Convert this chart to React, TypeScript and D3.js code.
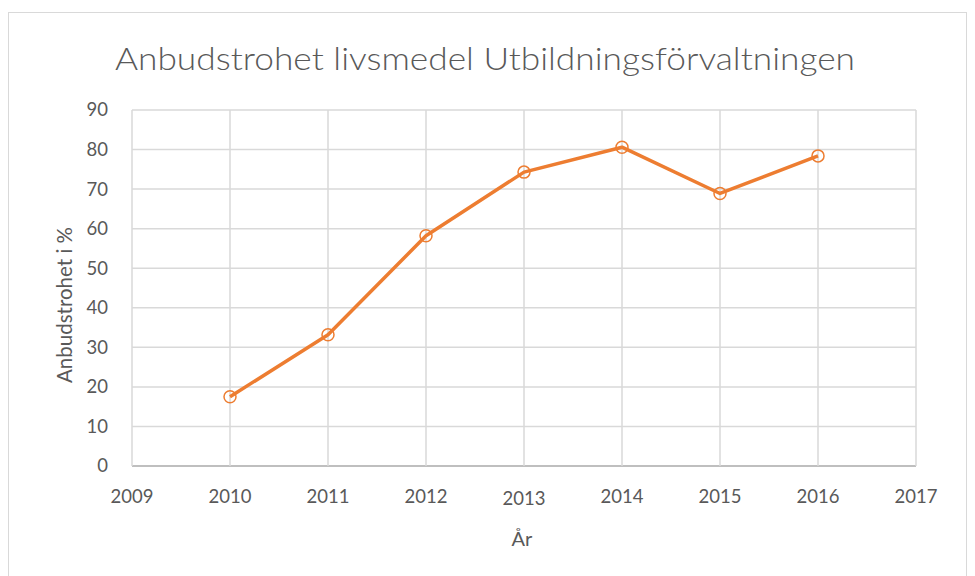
import React from 'react';
import * as d3 from 'd3';

const years = [2010, 2011, 2012, 2013, 2014, 2015, 2016];
const values = [17.5, 33.2, 58.2, 74.3, 80.6, 68.9, 78.4];
const xTicks = [2009, 2010, 2011, 2012, 2013, 2014, 2015, 2016, 2017];
const yTicks = [0, 10, 20, 30, 40, 50, 60, 70, 80, 90];

const width = 975;
const height = 576;
const margin = { top: 110, right: 59, bottom: 110, left: 132 };
const font = 'Lato, "Open Sans", sans-serif';
const textColor = '#595959';
const orange = '#ED7D31';

export default function App() {
  const x = d3
    .scaleLinear()
    .domain([2009, 2017])
    .range([margin.left, width - margin.right]);
  const y = d3
    .scaleLinear()
    .domain([0, 90])
    .range([height - margin.bottom, margin.top]);

  const points = years.map((yr, i) => [x(yr), y(values[i])] as [number, number]);
  const line = d3.line();

  return (
    <svg
      width={width}
      height={height}
      style={{ position: 'absolute', left: 0, top: 0, background: '#fff' }}
    >
      <rect x={8.5} y={12.5} width={958} height={600} fill="#fff" stroke="#D9D9D9" strokeWidth={1} />

      <text
        x={485}
        y={70}
        textAnchor="middle"
        fontFamily={font}
        fontWeight={300}
        fontSize={31}
        fill={textColor}
        textLength={740}
        lengthAdjust="spacingAndGlyphs"
      >
        Anbudstrohet livsmedel Utbildningsförvaltningen
      </text>

      {/* horizontal gridlines */}
      {yTicks.map((t) => (
        <line
          key={'h' + t}
          x1={x(2009)}
          x2={x(2017)}
          y1={y(t)}
          y2={y(t)}
          stroke={t === 0 ? '#BFBFBF' : '#D9D9D9'}
          strokeWidth={t === 0 ? 2 : 1.5}
        />
      ))}
      {/* vertical gridlines */}
      {xTicks.map((t) => (
        <line
          key={'v' + t}
          x1={x(t)}
          x2={x(t)}
          y1={y(90)}
          y2={y(0)}
          stroke="#D9D9D9"
          strokeWidth={1.5}
        />
      ))}

      {yTicks.map((t) => (
        <text
          key={'yl' + t}
          x={108}
          y={y(t)}
          dy="0.35em"
          textAnchor="end"
          fontFamily={font}
          fontSize={18.5}
          fill={textColor}
        >
          {t}
        </text>
      ))}
      {xTicks.map((t) => (
        <text
          key={'xl' + t}
          x={x(t)}
          y={t === 2013 ? 505 : 503}
          textAnchor="middle"
          fontFamily={font}
          fontSize={18.5}
          fill={textColor}
        >
          {t}
        </text>
      ))}

      <text
        x={522}
        y={546}
        textAnchor="middle"
        fontFamily={font}
        fontSize={20}
        fill={textColor}
      >
        År
      </text>
      <text
        transform="translate(72, 305) rotate(-90)"
        textAnchor="middle"
        fontFamily={font}
        fontSize={20.5}
        fill={textColor}
      >
        Anbudstrohet i %
      </text>

      <path d={line(points) ?? ''} fill="none" stroke={orange} strokeWidth={3.5} strokeLinejoin="round" />
      {points.map(([px, py], i) => (
        <circle key={'m' + i} cx={px} cy={py} r={6} fill="none" stroke={orange} strokeWidth={1.5} />
      ))}
    </svg>
  );
}
